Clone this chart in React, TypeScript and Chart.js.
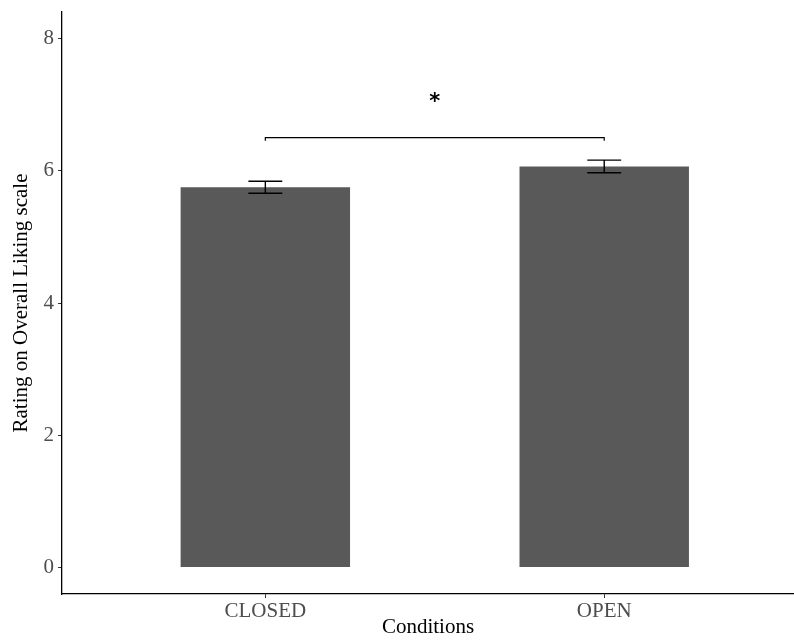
import React, { useEffect, useRef } from "react";
import { Chart, registerables } from "chart.js";

Chart.register(...registerables);

const categories = ["CLOSED", "OPEN"];
const means = [5.75, 6.065];
const errLower = [5.66, 5.97];
const errUpper = [5.84, 6.16];
const yTicks = [0, 2, 4, 6, 8];
const sigPair = [1, 2];
const sigY = 6.5;
const sigLabel = "*";
const sigLabelY = 7.07;

const serif = '"Liberation Serif", "DejaVu Serif", serif';

const annotationsPlugin = {
  id: "annotations",
  afterDatasetsDraw(chart: any) {
    const { ctx, scales } = chart;
    const xs = scales.x;
    const ys = scales.y;
    ctx.save();
    ctx.strokeStyle = "#000";
    ctx.lineWidth = 1.4;
    // error bars
    categories.forEach((_, i) => {
      const cx = xs.getPixelForValue(i + 1);
      const half = xs.getPixelForValue(i + 1.05) - cx;
      const yl = ys.getPixelForValue(errLower[i]);
      const yu = ys.getPixelForValue(errUpper[i]);
      ctx.beginPath();
      ctx.moveTo(cx - half, yu);
      ctx.lineTo(cx + half, yu);
      ctx.moveTo(cx, yu);
      ctx.lineTo(cx, yl);
      ctx.moveTo(cx - half, yl);
      ctx.lineTo(cx + half, yl);
      ctx.stroke();
    });
    // significance bracket
    const x1 = xs.getPixelForValue(sigPair[0]);
    const x2 = xs.getPixelForValue(sigPair[1]);
    const by = ys.getPixelForValue(sigY);
    ctx.lineWidth = 1.2;
    ctx.beginPath();
    ctx.moveTo(x1, by + 3);
    ctx.lineTo(x1, by);
    ctx.lineTo(x2, by);
    ctx.lineTo(x2, by + 3);
    ctx.stroke();
    // label
    ctx.fillStyle = "#000";
    ctx.font = 'bold 21px "DejaVu Sans", sans-serif';
    ctx.textAlign = "center";
    ctx.textBaseline = "alphabetic";
    ctx.fillText(sigLabel, (x1 + x2) / 2, ys.getPixelForValue(sigLabelY) + 8);
    ctx.restore();
  },
};

export default function App() {
  const ref = useRef<HTMLCanvasElement>(null);
  useEffect(() => {
    if (!ref.current) return;
    const chart = new Chart(ref.current, {
      type: "bar",
      data: {
        datasets: [
          {
            data: categories.map((_, i) => ({ x: i + 1, y: means[i] })),
            backgroundColor: "#595959",
            borderWidth: 0,
            categoryPercentage: 1,
            barPercentage: 0.5,
          },
        ],
      },
      options: {
        animation: false,
        responsive: false,
        layout: { padding: { top: 12, right: 0, left: 0, bottom: 0 } },
        plugins: { legend: { display: false }, tooltip: { enabled: false } },
        scales: {
          x: {
            type: "linear",
            offset: false,
            min: 0.4,
            max: 2.56,
            afterBuildTicks: (s: any) => {
              s.ticks = categories.map((_, i) => ({ value: i + 1 }));
            },
            afterFit: (s: any) => {
              s.height = 46;
              s.paddingLeft = 0;
              s.paddingRight = 0;
            },
            grid: {
              display: true,
              offset: false,
              drawOnChartArea: false,
              drawTicks: true,
              tickLength: 4,
              color: "#333",
              lineWidth: 1,
            },
            border: { display: true, color: "#000", width: 1.3 },
            ticks: {
              autoSkip: false,
              maxRotation: 0,
              padding: 1,
              color: "#4d4d4d",
              font: { family: serif, size: 21 },
              callback: (v: any) => categories[Math.round(Number(v)) - 1] ?? "",
            },
            title: {
              display: true,
              text: "Conditions",
              color: "#000",
              font: { family: serif, size: 21 },
              padding: { top: 0, bottom: 0 },
            },
          },
          y: {
            min: -0.4,
            max: 8.4,
            afterBuildTicks: (s: any) => {
              s.ticks = yTicks.map((v) => ({ value: v }));
            },
            afterFit: (s: any) => {
              s.width = 62;
              s.paddingTop = 0;
              s.paddingBottom = 0;
            },
            grid: {
              display: true,
              drawOnChartArea: false,
              drawTicks: true,
              tickLength: 4,
              color: "#333",
              lineWidth: 1,
            },
            border: { display: true, color: "#000", width: 1.3 },
            ticks: {
              padding: 4,
              color: "#4d4d4d",
              font: { family: serif, size: 21 },
              callback: (v: any) => String(v),
            },
            title: {
              display: true,
              text: "Rating on Overall Liking scale",
              color: "#000",
              font: { family: serif, size: 21 },
              padding: { top: 9, bottom: 0 },
            },
          },
        },
      },
      plugins: [annotationsPlugin],
    } as any);
    return () => chart.destroy();
  }, []);
  return (
    <div style={{ position: "fixed", left: 0, top: 0, width: 794, height: 640, background: "#fff" }}>
      <canvas ref={ref} width={794} height={640} style={{ display: "block" }} />
    </div>
  );
}
